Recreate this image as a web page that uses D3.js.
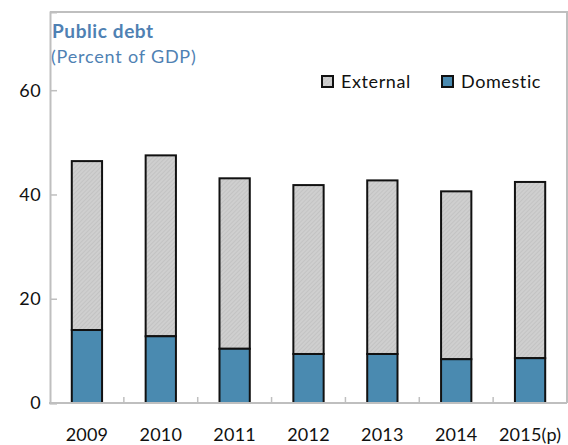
<!DOCTYPE html>
<html>
<head>
<meta charset="utf-8">
<script src="https://cdn.jsdelivr.net/npm/d3@7"></script>
<style>
  body { margin: 0; background: #fff; }
  text { font-family: Lato, "Open Sans", sans-serif; }
</style>
</head>
<body>
<div id="chart"></div>
<script>
// Data
const years = ["2009", "2010", "2011", "2012", "2013", "2014", "2015(p)"];
const domestic = [14.0, 12.8, 10.4, 9.4, 9.4, 8.4, 8.6];
const external = [32.4, 34.7, 32.7, 32.4, 33.3, 32.2, 33.8];
const yTicks = [0, 20, 40, 60];

const width = 568;
const height = 445;
const marginTop = 12;
const marginRight = 1;
const marginBottom = 42;
const marginLeft = 50;

const axisGrey = "#bfbfbf";
const blue = "#4a8ab0";
const titleBlue = "#4f81b3";

const svg = d3.select("#chart").append("svg")
    .attr("width", width)
    .attr("height", height);

// hatch pattern for the external bars
const defs = svg.append("defs");
const pat = defs.append("pattern")
    .attr("id", "hatch")
    .attr("patternUnits", "userSpaceOnUse")
    .attr("width", 3)
    .attr("height", 3)
    .attr("patternTransform", "rotate(45)");
pat.append("rect").attr("width", 3).attr("height", 3).attr("fill", "#cfcfcf");
pat.append("line").attr("x1", 0).attr("y1", 0).attr("x2", 0).attr("y2", 3)
    .attr("stroke", "#b8b8b8").attr("stroke-width", 1);

const x = d3.scaleBand()
    .domain(years)
    .range([marginLeft, width - marginRight])
    .paddingInner(0.59)
    .paddingOuter(0.295);

const y = d3.scaleLinear()
    .domain([0, 75])
    .range([height - marginBottom, marginTop]);

// frame: top and right
svg.append("path")
    .attr("d", `M${marginLeft},${marginTop}H${width - marginRight}V${y(0)}`)
    .attr("fill", "none")
    .attr("stroke", axisGrey)
    .attr("stroke-width", 2);

// y axis
const yAxis = svg.append("g")
    .attr("transform", `translate(${marginLeft},0)`)
    .call(d3.axisRight(y).tickValues(yTicks).tickSize(7).tickFormat(""));
yAxis.select(".domain").attr("stroke", axisGrey).attr("stroke-width", 2);
yAxis.selectAll(".tick line").attr("stroke", axisGrey).attr("stroke-width", 1.5);

svg.append("g")
    .selectAll("text")
    .data(yTicks)
    .join("text")
    .attr("x", 41)
    .attr("y", d => y(d))
    .attr("dy", "0.36em")
    .attr("text-anchor", "end")
    .attr("font-size", 18)
    .attr("letter-spacing", 0.4)
    .attr("fill", "#111")
    .text(d => d);

// bars
const stack = years.map((yr, i) => ({ yr, dom: domestic[i], ext: external[i] }));

svg.append("g")
    .selectAll("rect")
    .data(stack)
    .join("rect")
    .attr("x", d => x(d.yr))
    .attr("width", x.bandwidth())
    .attr("y", d => y(d.dom + d.ext))
    .attr("height", d => y(d.dom) - y(d.dom + d.ext))
    .attr("fill", "url(#hatch)")
    .attr("stroke", "#111")
    .attr("stroke-width", 2);

svg.append("g")
    .selectAll("rect")
    .data(stack)
    .join("rect")
    .attr("x", d => x(d.yr))
    .attr("width", x.bandwidth())
    .attr("y", d => y(d.dom))
    .attr("height", d => y(0) - y(d.dom))
    .attr("fill", blue)
    .attr("stroke", "#111")
    .attr("stroke-width", 2);

// x axis line and boundary ticks
svg.append("line")
    .attr("x1", marginLeft - 1)
    .attr("x2", width - marginRight)
    .attr("y1", y(0))
    .attr("y2", y(0))
    .attr("stroke", axisGrey)
    .attr("stroke-width", 2);

const step = x.step();
svg.append("g")
    .selectAll("line")
    .data(years.slice(1))
    .join("line")
    .attr("x1", d => x(d) - (step - x.bandwidth()) / 2)
    .attr("x2", d => x(d) - (step - x.bandwidth()) / 2)
    .attr("y1", y(0))
    .attr("y2", y(0) - 6)
    .attr("stroke", axisGrey)
    .attr("stroke-width", 1.5);

svg.append("g")
    .selectAll("text")
    .data(years)
    .join("text")
    .attr("x", d => x(d) + x.bandwidth() / 2)
    .attr("y", 441)
    .attr("text-anchor", "middle")
    .attr("font-size", 18)
    .attr("letter-spacing", 0.2)
    .attr("fill", "#111")
    .text(d => d);

// title
svg.append("text")
    .attr("x", 52)
    .attr("y", 38)
    .attr("font-size", 19)
    .attr("letter-spacing", 0.6)
    .attr("font-weight", "bold")
    .attr("fill", titleBlue)
    .text("Public debt");
svg.append("text")
    .attr("x", 51)
    .attr("y", 63)
    .attr("font-size", 18)
    .attr("letter-spacing", 0.8)
    .attr("fill", titleBlue)
    .text("(Percent of GDP)");

// legend
const legend = [
  { label: "External", fill: "url(#hatch)", x: 322 },
  { label: "Domestic", fill: blue, x: 442 }
];
const lg = svg.append("g")
    .selectAll("g")
    .data(legend)
    .join("g")
    .attr("transform", d => `translate(${d.x},76)`);
lg.append("rect")
    .attr("width", 11)
    .attr("height", 11)
    .attr("fill", d => d.fill)
    .attr("stroke", "#111")
    .attr("stroke-width", 2);
lg.append("text")
    .attr("x", 19)
    .attr("y", 12)
    .attr("font-size", 18)
    .attr("letter-spacing", 0.6)
    .attr("fill", "#111")
    .text(d => d.label);
</script>
</body>
</html>
